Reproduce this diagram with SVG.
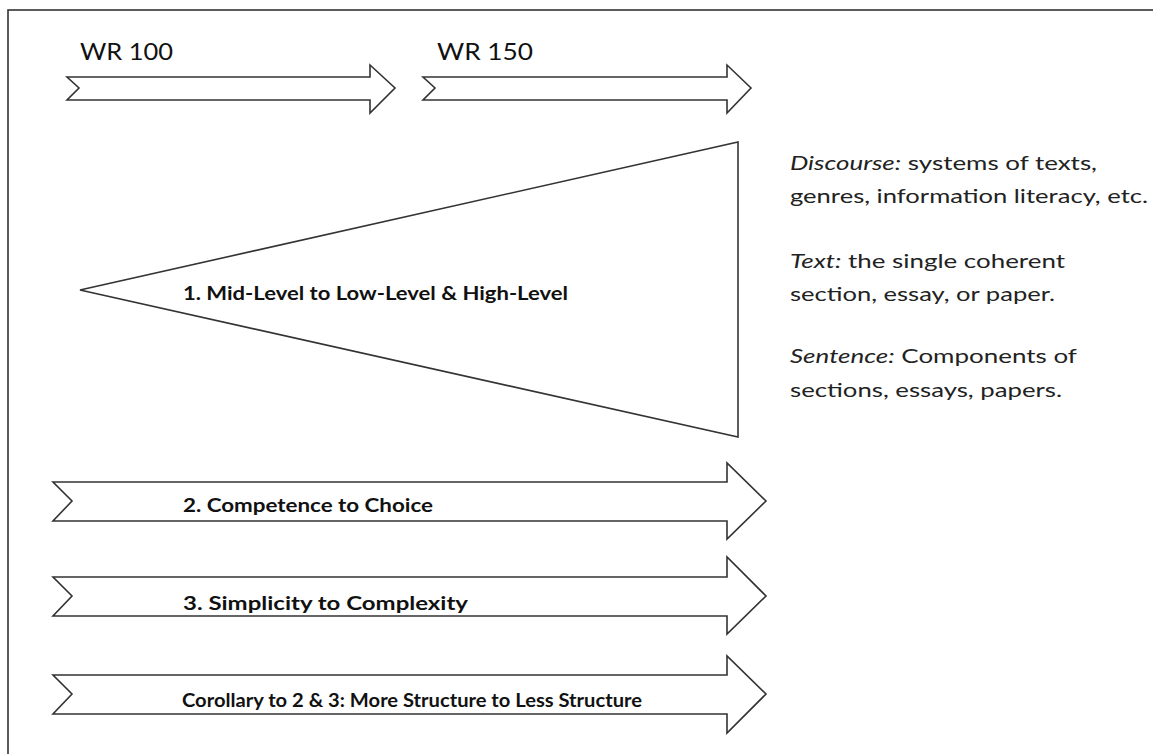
<svg xmlns="http://www.w3.org/2000/svg" width="1153" height="754" viewBox="0 0 1153 754">
<style>
.shape{fill:#fff;stroke:#333;stroke-width:1.6;stroke-linejoin:miter}
.lbl{font-family:Lato,"Open Sans",sans-serif;font-weight:bold;font-size:19px;fill:#111}
.hdr{font-family:Lato,"Open Sans",sans-serif;font-size:24px;fill:#111}
.note{font-family:Lato,"Open Sans",sans-serif;font-size:20px;fill:#222}
</style>
<rect x="0" y="0" width="1153" height="754" fill="#fff"/>
<rect x="8" y="10" width="1200" height="800" fill="none" stroke="#333" stroke-width="1.6"/>
<g id="wr100">
<polygon class="shape" points="67,77 370,77 370,65 395,88 370,113 370,100 67,100 79,88"/>
<text class="hdr" x="80" y="60" textLength="93" lengthAdjust="spacingAndGlyphs">WR 100</text>
</g>
<g id="wr150">
<polygon class="shape" points="423,77 727,77 727,65 751,88 727,113 727,100 423,100 435,88"/>
<text class="hdr" x="437" y="60" textLength="96" lengthAdjust="spacingAndGlyphs">WR 150</text>
</g>
<g id="triangle">
<polygon class="shape" points="80,290 738,142 738,437"/>
<text class="lbl" x="183" y="300" textLength="385" lengthAdjust="spacingAndGlyphs">1. Mid-Level to Low-Level &amp; High-Level</text>
</g>
<g id="arrow2">
<polygon class="shape" points="53,482 727,482 727,463 766,501 727,539 727,521 53,521 72,501"/>
<text class="lbl" x="183" y="512" textLength="250" lengthAdjust="spacingAndGlyphs">2. Competence to Choice</text>
</g>
<g id="arrow3">
<polygon class="shape" points="53,577 727,577 727,557 766,596 727,634 727,616 53,616 72,596"/>
<text class="lbl" x="183" y="610" textLength="285" lengthAdjust="spacingAndGlyphs">3. Simplicity to Complexity</text>
</g>
<g id="arrow4">
<polygon class="shape" points="53,675 727,675 727,656 766,694 727,733 727,714 53,714 72,694"/>
<text class="lbl" x="182" y="707" textLength="460" lengthAdjust="spacingAndGlyphs">Corollary to 2 &amp; 3: More Structure to Less Structure</text>
</g>
<g id="legend">
<text class="note" x="790" y="170" textLength="307" lengthAdjust="spacingAndGlyphs"><tspan font-style="italic">Discourse:</tspan> systems of texts,</text>
<text class="note" x="790" y="203" textLength="358" lengthAdjust="spacingAndGlyphs">genres, information literacy, etc.</text>
<text class="note" x="790" y="268" textLength="275" lengthAdjust="spacingAndGlyphs"><tspan font-style="italic">Text:</tspan> the single coherent</text>
<text class="note" x="790" y="301" textLength="265" lengthAdjust="spacingAndGlyphs">section, essay, or paper.</text>
<text class="note" x="790" y="363" textLength="287" lengthAdjust="spacingAndGlyphs"><tspan font-style="italic">Sentence:</tspan> Components of</text>
<text class="note" x="790" y="397" textLength="272" lengthAdjust="spacingAndGlyphs">sections, essays, papers.</text>
</g>
<g id="connectors"></g>
</svg>
